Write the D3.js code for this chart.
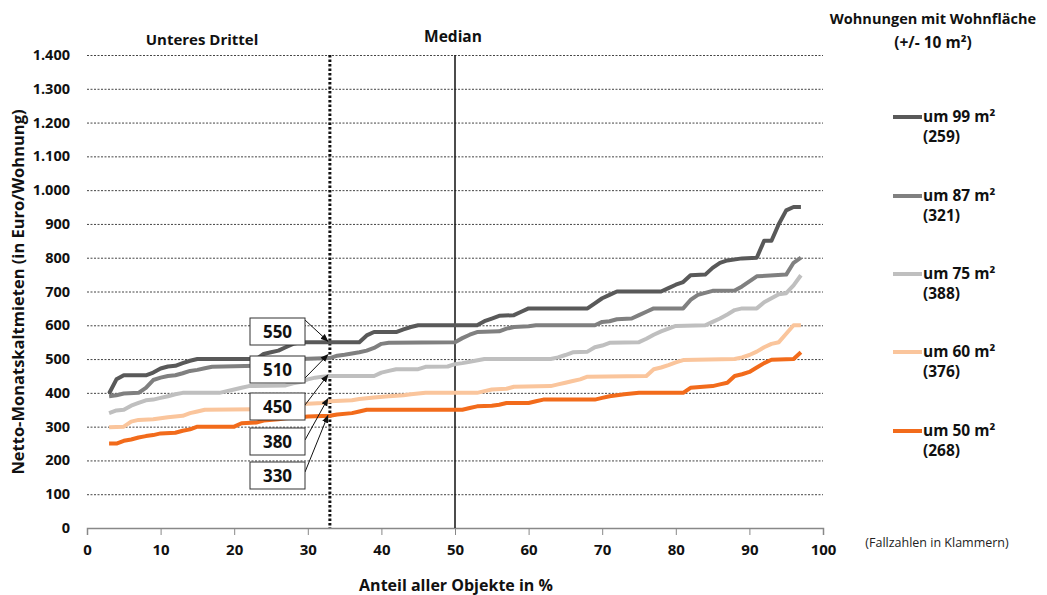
<!DOCTYPE html>
<html><head><meta charset="utf-8">
<script src="https://cdn.jsdelivr.net/npm/d3@7"></script>
<style>
body{margin:0;background:#fff;}
text{font-family:"Open Sans","Noto Sans",sans-serif;}
</style></head>
<body><svg id="c" width="1047" height="595"></svg>
<script>
// ---- data ----
const xTicks = [0,10,20,30,40,50,60,70,80,90,100];
const yTicks = [0,100,200,300,400,500,600,700,800,900,1000,1100,1200,1300,1400];
const seriesNames = ["um 99 m²","um 87 m²","um 75 m²","um 60 m²","um 50 m²"];
const seriesCounts = ["(259)","(321)","(388)","(376)","(268)"];
const seriesColors = ["#595959","#808080","#bfbfbf","#fac59c","#f26b1b"];
const rent99 = [[3,398],[4,440],[5,452],[8,452],[9,460],[10,472],[11,478],[12,480],[13,488],[14,495],[15,500],[23,500],[24,515],[25,520],[26,525],[27,535],[28,545],[29,550],[37,550],[38,570],[39,580],[42,580],[43,588],[44,595],[45,600],[53,600],[54,612],[55,620],[56,628],[58,630],[59,640],[60,650],[68,650],[69,665],[70,680],[71,690],[72,700],[78,700],[79,710],[80,720],[81,728],[82,748],[84,750],[85,770],[86,785],[87,792],[89,798],[91,800],[92,850],[93,850],[94,900],[95,940],[96,950],[97,950]];
const rent87 = [[3,390],[4,393],[5,398],[7,400],[8,415],[9,438],[10,445],[11,450],[12,452],[13,458],[14,465],[15,468],[16,473],[17,477],[23,480],[24,485],[26,490],[28,495],[29,500],[33,503],[34,510],[35,513],[37,520],[38,525],[39,533],[40,545],[41,548],[50,550],[51,562],[52,572],[53,580],[56,582],[57,590],[58,595],[60,597],[61,600],[69,600],[70,610],[71,612],[72,618],[74,620],[75,630],[76,640],[77,650],[81,650],[82,675],[83,690],[84,696],[85,702],[88,703],[89,715],[90,730],[91,745],[95,750],[96,785],[97,800]];
const rent75 = [[3,340],[4,348],[5,350],[6,362],[7,370],[8,378],[9,380],[10,385],[11,390],[12,396],[13,400],[18,400],[19,405],[20,410],[21,415],[22,420],[27,422],[28,428],[29,432],[30,440],[31,445],[32,448],[33,450],[39,450],[40,460],[41,465],[42,470],[45,470],[46,477],[49,478],[50,485],[51,488],[52,492],[54,500],[63,500],[64,505],[65,512],[66,520],[68,522],[69,535],[70,540],[71,548],[75,550],[76,560],[77,572],[78,582],[79,590],[80,598],[84,600],[85,610],[86,620],[87,632],[88,645],[89,650],[91,650],[92,668],[93,680],[94,692],[95,695],[96,718],[97,748]];
const rent60 = [[3,298],[5,300],[6,315],[7,320],[9,322],[10,325],[11,328],[12,330],[13,332],[14,340],[15,345],[16,350],[24,352],[25,358],[26,362],[27,365],[30,368],[32,370],[33,375],[36,378],[37,382],[39,386],[41,390],[43,393],[44,396],[46,400],[53,400],[54,405],[55,410],[57,412],[58,418],[63,420],[64,425],[65,430],[66,435],[67,440],[68,448],[76,450],[77,470],[78,475],[79,482],[80,490],[81,497],[88,500],[89,505],[90,512],[91,522],[92,535],[93,545],[94,550],[95,575],[96,600],[97,600]];
const rent50 = [[3,250],[4,250],[5,258],[6,262],[7,268],[8,272],[9,275],[10,280],[12,282],[13,288],[14,292],[15,300],[20,300],[21,310],[23,312],[24,318],[26,322],[27,325],[29,328],[30,330],[33,332],[34,336],[36,340],[37,345],[38,350],[51,350],[52,355],[53,360],[55,362],[56,365],[57,370],[60,370],[61,375],[62,380],[69,380],[70,385],[71,390],[72,393],[73,396],[75,400],[81,400],[82,415],[85,420],[86,425],[87,430],[88,450],[89,455],[90,462],[91,475],[92,488],[93,498],[96,500],[97,520]];
const allSeries = [rent99, rent87, rent75, rent60, rent50];
const thirdPct = 33;
const medianPct = 50;
const thirdValues = [550,510,450,380,330];

// ---- layout ----
const L = 87, R = 823, T = 55, B = 528;
const svg = d3.select("#c");
const x = d3.scaleLinear().domain([0,100]).range([L,R]);
const y = d3.scaleLinear().domain([0,1400]).range([B,T]);
const fmt = d3.formatLocale({decimal:",",thousands:".",grouping:[3],currency:["","€"]}).format(",");

// gridlines
svg.append("g").selectAll("line").data(yTicks.filter(d=>d>0)).join("line")
  .attr("x1",L).attr("x2",R).attr("y1",d=>y(d)+0.5).attr("y2",d=>y(d)+0.5)
  .attr("stroke","#444").attr("stroke-width",1).attr("stroke-dasharray","2,1.5");

// y tick labels
svg.append("g").selectAll("text").data(yTicks).join("text")
  .attr("x",70).attr("y",d=>y(d)+5).attr("text-anchor","end")
  .attr("font-size",14.5).attr("font-weight",700).attr("fill","#111").text(d=>fmt(d));

// x axis
const xa = svg.append("g").attr("transform",`translate(0,${B})`)
  .call(d3.axisBottom(x).tickValues(xTicks).tickSize(7).tickFormat(d=>d));
xa.select(".domain").attr("stroke","#888").attr("stroke-width",1.5);
xa.selectAll(".tick line").attr("stroke","#888");
xa.selectAll(".tick text").attr("font-size",15).attr("font-weight",700).attr("fill","#111")
  .attr("dy","1.1em").attr("font-family","'Liberation Sans Narrow','Open Sans',sans-serif");

// reference lines
svg.append("line").attr("x1",x(thirdPct)).attr("x2",x(thirdPct)).attr("y1",y(1400)).attr("y2",B)
  .attr("stroke","#111").attr("stroke-width",3).attr("stroke-dasharray","2.5,2");
svg.append("line").attr("x1",x(medianPct)).attr("x2",x(medianPct)).attr("y1",y(1400)).attr("y2",B)
  .attr("stroke","#111").attr("stroke-width",1.5);
svg.append("text").attr("x",202).attr("y",45).attr("text-anchor","middle")
  .attr("font-size",15).attr("font-weight",700).attr("fill","#111").text("Unteres Drittel");
svg.append("text").attr("x",453).attr("y",42).attr("text-anchor","middle")
  .attr("font-size",15.5).attr("font-weight",700).attr("fill","#111").text("Median");

// series lines (drawn bottom-up so darker on top)
const line = d3.line().x(d=>x(d[0])).y(d=>y(d[1])).curve(d3.curveLinear);
[4,3,2,1,0].forEach(i=>{
  svg.append("path").datum(allSeries[i]).attr("d",line).attr("fill","none")
    .attr("stroke",seriesColors[i]).attr("stroke-width",4).attr("stroke-linejoin","round");
});

// arrows + boxes
svg.append("defs").append("marker").attr("id","ah").attr("viewBox","0 0 10 10")
  .attr("refX",9).attr("refY",5).attr("markerWidth",8).attr("markerHeight",8).attr("orient","auto")
  .append("path").attr("d","M0,1 L10,5 L0,9 Z").attr("fill","#111");
const boxTop = [318,356,393,428,462];
const boxStartY = [320,378,405,440,472];
const bx = 250, bw = 55, bh = 27;
thirdValues.forEach((v,i)=>{
  svg.append("line").attr("x1",bx+bw).attr("y1",boxStartY[i]).attr("x2",x(thirdPct)-2).attr("y2",y(v)-1)
    .attr("stroke","#111").attr("stroke-width",1).attr("marker-end","url(#ah)");
});
thirdValues.forEach((v,i)=>{
  svg.append("rect").attr("x",bx).attr("y",boxTop[i]).attr("width",bw).attr("height",bh)
    .attr("fill","#fff").attr("stroke","#333").attr("stroke-width",1);
  svg.append("text").attr("x",bx+bw/2).attr("y",boxTop[i]+bh/2+6).attr("text-anchor","middle")
    .attr("font-size",17).attr("font-weight",700).attr("fill","#111").text(v);
});

// axis titles
svg.append("text").attr("x",456).attr("y",591).attr("text-anchor","middle")
  .attr("font-size",16).attr("font-weight",700).attr("fill","#111").text("Anteil aller Objekte in %");
svg.append("text").attr("transform","translate(24,292) rotate(-90)").attr("text-anchor","middle")
  .attr("font-size",16.5).attr("font-weight",700).attr("fill","#111").text("Netto-Monatskaltmieten (in Euro/Wohnung)");

// legend
svg.append("text").attr("x",933).attr("y",24).attr("text-anchor","middle")
  .attr("font-size",14.5).attr("font-weight",700).attr("fill","#111").text("Wohnungen mit Wohnfläche");
svg.append("text").attr("x",933).attr("y",48).attr("text-anchor","middle")
  .attr("font-size",15.5).attr("font-weight",700).attr("fill","#111").text("(+/- 10 m²)");
const legY = [117,196,274,352,431];
seriesNames.forEach((n,i)=>{
  svg.append("line").attr("x1",893).attr("x2",922).attr("y1",legY[i]).attr("y2",legY[i])
    .attr("stroke",seriesColors[i]).attr("stroke-width",4);
  svg.append("text").attr("x",923).attr("y",legY[i]+5).attr("font-size",15.5).attr("font-weight",700)
    .attr("fill","#111").text(n);
  svg.append("text").attr("x",923).attr("y",legY[i]+25).attr("font-size",15.5).attr("font-weight",700)
    .attr("fill","#111").text(seriesCounts[i]);
});
svg.append("text").attr("x",937).attr("y",547).attr("text-anchor","middle")
  .attr("font-size",12.5).attr("fill","#222").text("(Fallzahlen in Klammern)");
</script></body></html>
